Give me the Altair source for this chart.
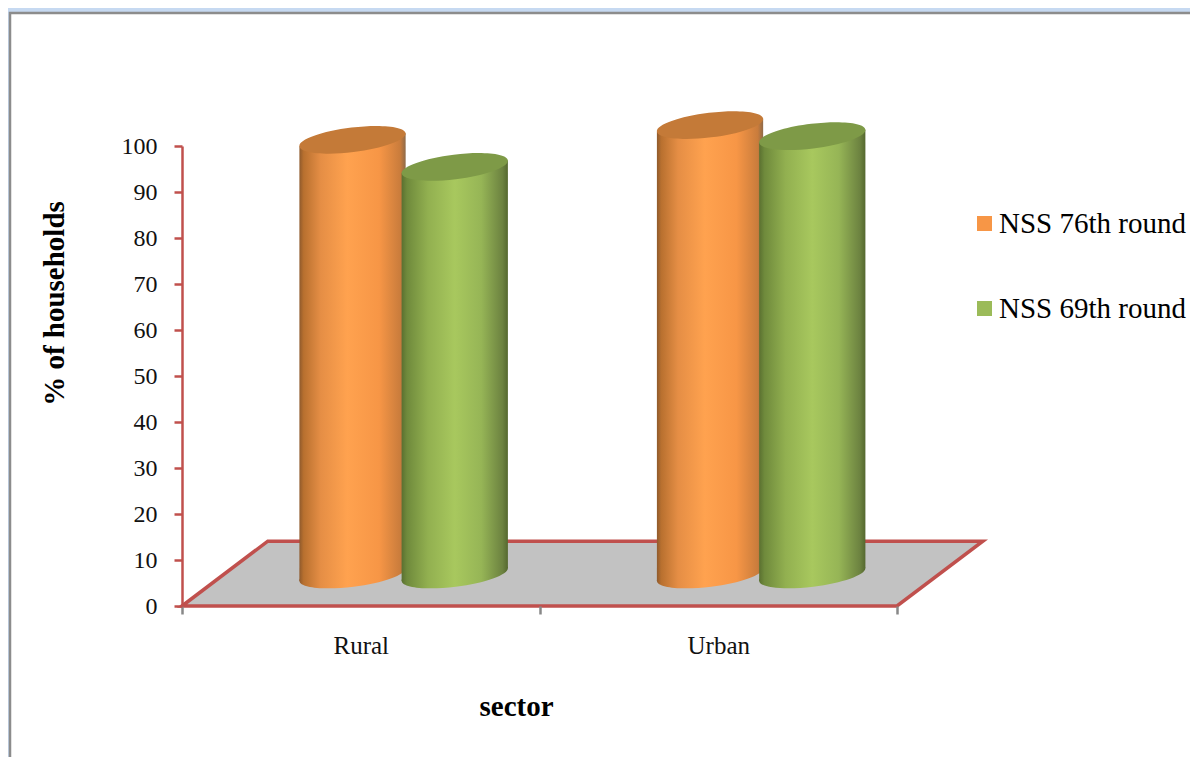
import altair as alt
import pandas as pd

sectors = ["Rural", "Urban"]
rounds = ["NSS 76th round", "NSS 69th round"]
values_76 = [94.5, 97.7]
values_69 = [88.6, 95.3]
legend_colors = ["#F79646", "#9BBB59"]

DEPTH = 6.85        # apparent lift of the cylinders' base above the floor's front edge
SHIFT = 0.62        # pair centre in each category band, moved back by the 3-D depth
GAP = 0.143         # half distance between the pair's centres
HALF = 0.1486       # half a cylinder's width, in x units
TILT = 1.4          # rise of the ellipse tips, in y units
FLOOR_Y = 14.1
FLOOR_X = 0.24
CAP_SIZE = 107 ** 2

rows = []
side_rows = []
for i, s in enumerate(sectors):
    for r, vals, off in ((rounds[0], values_76, -GAP), (rounds[1], values_69, GAP)):
        c = i + SHIFT + off
        rows.append({"sector": s, "round": r, "value": vals[i], "c": c,
                     "top": vals[i] + DEPTH, "base": DEPTH})
        for side in (-1, 1):
            side_rows.append({"sector": s, "round": r, "xs": c + side * HALF,
                              "y_top": vals[i] + DEPTH + side * TILT,
                              "y_base": DEPTH + side * TILT})
df = pd.DataFrame(rows)
sides = pd.DataFrame(side_rows)

floor = pd.DataFrame({
    "x": [0, FLOOR_X, 2, 2 + FLOOR_X],
    "y": [0, FLOOR_Y, FLOOR_Y, FLOOR_Y],
    "y2": [0, 0, 0, FLOOR_Y],
})

ELLIPSE = "M -0.993 0.12 A 1 0.23 -7 1 1 0.993 -0.12 A 1 0.23 -7 1 1 -0.993 0.12 Z"

xs = alt.Scale(domain=[0, 2], nice=False)
ys = alt.Scale(domain=[0, 100], nice=False)
RED = "#C0504D"


def grad(stops):
    return alt.Gradient(
        gradient="linear", x1=0, x2=1, y1=0, y2=0,
        stops=[alt.GradientStop(offset=o, color=c) for o, c in stops],
    )


ORANGE = grad([(0, "#8F5A2C"), (0.04, "#B8702F"), (0.2, "#E58E45"), (0.45, "#FFA24F"),
               (0.75, "#F79646"), (0.95, "#C97C3C"), (1, "#8F6A48")])
GREEN = grad([(0, "#5A7030"), (0.05, "#6F8A3C"), (0.25, "#92B050"), (0.5, "#A8C85E"),
              (0.75, "#96B556"), (0.95, "#6C8240"), (1, "#55682F")])
CAPS = ["#C47A38", "#7E9A47"]

# legend source sits under the white panel
legend_src = alt.Chart(df).mark_square(size=1, opacity=1).encode(
    x=alt.X("c:Q", scale=xs),
    y=alt.Y("value:Q", scale=ys),
    color=alt.Color(
        "round:N",
        scale=alt.Scale(domain=rounds, range=legend_colors),
        legend=alt.Legend(
            orient="none", legendX=788, legendY=63, title=None,
            symbolType="square", symbolSize=225, symbolStrokeWidth=0,
            labelFont="Liberation Serif", labelFontSize=29, labelColor="#000",
            labelLimit=300, rowPadding=55, labelOffset=0,
        ),
    ),
)

panel = alt.Chart(alt.Data(values=[{}])).mark_rect(
    fill="white", stroke="#8C8C8C", strokeWidth=2.5
).encode(
    x=alt.value(-172), x2=alt.value(1300), y=alt.value(-133), y2=alt.value(800)
)

floor_layer = alt.Chart(floor).mark_area(
    color="#C2C2C2", stroke=RED, strokeWidth=3.5, interpolate="linear"
).encode(
    x=alt.X(
        "x:Q", scale=xs, title="sector",
        axis=alt.Axis(
            values=[0, 0.5, 1, 1.5, 2], grid=False, domain=False,
            labelExpr="datum.value==0.5 ? 'Rural' : datum.value==1.5 ? 'Urban' : ''",
            labelFont="Liberation Serif", labelFontSize=25, labelColor="#111",
            labelPadding=19, tickSize=8, tickWidth=2.5, tickColor="#888888",
            tickOpacity=alt.condition("datum.value % 1 == 0", alt.value(1), alt.value(0)),
            titleFont="Liberation Serif", titleFontSize=29, titleFontWeight="bold",
            titleColor="#000", titleX=334, titleY=100, titleBaseline="middle",
            titleAlign="center", zindex=1, labelFlush=False, labelOverlap=False,
        ),
    ),
    y=alt.Y(
        "y:Q", scale=ys, title="% of households",
        axis=alt.Axis(
            values=list(range(0, 101, 10)), grid=False,
            domainColor=RED, domainWidth=2.5, tickColor=RED, tickWidth=2.5, tickSize=8,
            labelFont="Liberation Serif", labelFontSize=24, labelColor="#111", labelPadding=17,
            titleFont="Liberation Serif", titleFontSize=29, titleFontWeight="bold",
            titleColor="#000", titleX=-128, titleY=157, titleBaseline="middle",
            titleAngle=-90, zindex=1, labelOverlap=False,
        ),
    ),
    y2="y2:Q",
)


def cylinder(name, fill, cap):
    d = alt.Chart(df).transform_filter(alt.datum["round"] == name)
    body = alt.Chart(sides).transform_filter(alt.datum["round"] == name).mark_area(
        color=fill, interpolate="linear", opacity=1
    ).encode(
        x=alt.X("xs:Q", scale=xs),
        y=alt.Y("y_top:Q", scale=ys), y2="y_base:Q",
        detail="sector:N",
    )
    base = d.mark_point(shape=ELLIPSE, size=CAP_SIZE, filled=True, fill=fill, opacity=1, strokeWidth=0).encode(
        x=alt.X("c:Q", scale=xs), y=alt.Y("base:Q", scale=ys),
    )
    top = d.mark_point(shape=ELLIPSE, size=CAP_SIZE, filled=True, fill=cap, opacity=1, strokeWidth=0).encode(
        x=alt.X("c:Q", scale=xs), y=alt.Y("top:Q", scale=ys),
    )
    return base + body + top


chart = alt.layer(
    legend_src, panel, floor_layer,
    cylinder(rounds[0], ORANGE, CAPS[0]),
    cylinder(rounds[1], GREEN, CAPS[1]),
).properties(
    width=715, height=460, background="#C6D9F1",
    padding={"left": 174, "top": 138, "right": 293, "bottom": 151},
    autosize=alt.AutoSizeParams(type="none"),
).configure_view(stroke=None)

chart.save("out.html", embed_options={"renderer": "svg", "actions": False})
